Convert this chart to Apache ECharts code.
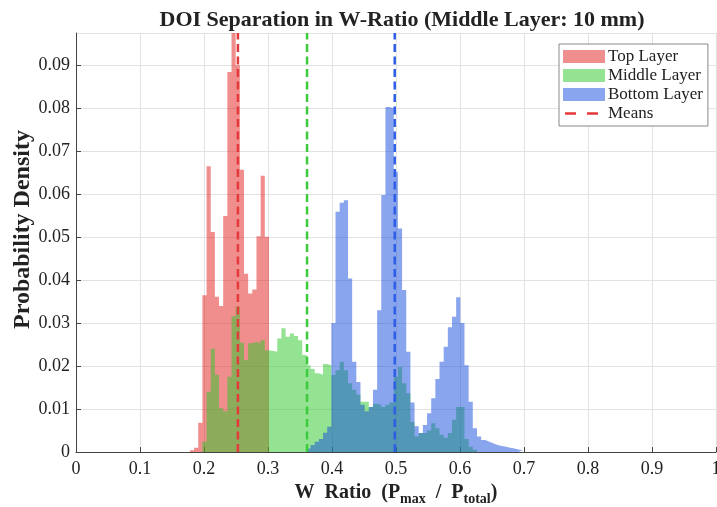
<!DOCTYPE html>
<html>
<head>
<meta charset="utf-8">
<script src="https://cdn.jsdelivr.net/npm/echarts@6/dist/echarts.min.js"></script>
<style>html,body{margin:0;padding:0;background:#fff}#c{width:717px;height:507px}</style>
</head>
<body>
<div id="c"></div>
<script>
// ---- data ----
const BIN_START = 0.178;   // left edge of bin 0
const BIN_WIDTH = 0.0065;
const topLayer = [0.0004, 0.001, 0.0068, 0.0365, 0.0665, 0.0512, 0.0361, 0.034, 0.0549, 0.0884,
  0.099, 0.090, 0.0657, 0.0415, 0.0369, 0.0378, 0.0502, 0.0643, 0.0501];
const middleLayer = [0, 0, 0, 0.0024, 0.014, 0.024, 0.018, 0.0102, 0.0095, 0.0175,
  0.0316, 0.0338, 0.0254, 0.0214, 0.0253, 0.0256, 0.0253, 0.026, 0.0237, 0.0235,
  0.0233, 0.0264, 0.0288, 0.0268, 0.0276, 0.027, 0.026, 0.0226, 0.0202, 0.0193,
  0.0183, 0.018, 0.0205, 0.0202, 0.0179, 0.019, 0.021, 0.019, 0.016, 0.0145,
  0.0133, 0.0117, 0.0117, 0.0105, 0.0112, 0.011, 0.0105, 0.011, 0.0115, 0.0175,
  0.0198, 0.016, 0.0137, 0.007, 0.0036, 0.0044, 0.0044, 0.005, 0.0067, 0.0055,
  0.004, 0.0033, 0.0044, 0.0075, 0.0105, 0.0105, 0.003, 0.0012, 0.0005];
const bottomLayer = [0, 0, 0, 0, 0, 0, 0, 0, 0, 0,
  0, 0, 0, 0, 0, 0, 0, 0, 0, 0,
  0, 0, 0, 0, 0, 0, 0, 0, 0.0008, 0.0016,
  0.0024, 0.003, 0.0045, 0.0059, 0.030, 0.0559, 0.058, 0.0586, 0.0404, 0.021,
  0.0163, 0.011, 0.0095, 0.0105, 0.0145, 0.033, 0.0598, 0.0803, 0.080, 0.0652,
  0.052, 0.0377, 0.0233, 0.0115, 0.006, 0.0044, 0.0063, 0.009, 0.0125, 0.017,
  0.021, 0.0245, 0.029, 0.0315, 0.036, 0.030, 0.0202, 0.0117, 0.0055, 0.0036,
  0.0028, 0.0024, 0.002, 0.0016, 0.0014, 0.0012, 0.001, 0.0008, 0.0006, 0.0004];
const means = {top: 0.253, middle: 0.361, bottom: 0.498};
const xTicks = {min: 0, max: 1, step: 0.1};
const yTicks = {min: 0, max: 0.0975, step: 0.01};

// ---- build ----
const FONT = '"Liberation Serif", "Times New Roman", serif';
function stepData(vals) {
  let first = vals.findIndex(v => v > 0);
  let last = vals.length - 1;
  while (last > 0 && !(vals[last] > 0)) last--;
  const pts = [];
  for (let k = first; k <= last; k++) pts.push([BIN_START + k * BIN_WIDTH, vals[k]]);
  pts.push([BIN_START + (last + 1) * BIN_WIDTH, 0]);
  return pts;
}
const fills = {
  top: 'rgba(226,30,30,0.5)',
  middle: 'rgba(40,200,40,0.5)',
  bottom: 'rgba(20,75,220,0.5)'
};
const swatch = {top: 'rgb(240,142,142)', middle: 'rgb(147,227,147)', bottom: 'rgb(137,165,237)'};
const meanColors = {top: '#E5393B', middle: '#3DCB3D', bottom: '#2E5EE8'};

function histSeries(name, vals, key) {
  return {
    name, type: 'line', step: 'end', symbol: 'none', silent: true,
    data: stepData(vals),
    lineStyle: {width: 0, opacity: 0},
    itemStyle: {color: swatch[key]},
    areaStyle: {color: fills[key], opacity: 1},
    z: 2
  };
}
function meanSeries(name, val, key) {
  return {
    name, type: 'line', symbol: 'none', showSymbol: false, silent: true,
    data: [[val, 0], [val, yTicks.max]],
    lineStyle: {color: meanColors[key], width: 2.5, type: [8, 4.5]},
    itemStyle: {color: meanColors[key]},
    z: 5
  };
}

const chart = echarts.init(document.getElementById('c'), null, {renderer: 'canvas'});
chart.setOption({
  animation: false,
  backgroundColor: '#fff',
  title: {
    text: 'DOI Separation in W-Ratio (Middle Layer: 10 mm)',
    left: 397, top: 4, textAlign: 'center',
    textStyle: {fontFamily: FONT, fontSize: 22, fontWeight: 'bold', color: '#222'}
  },
  grid: {left: 76, right: 1, top: 33, bottom: 55, containLabel: false, outerBoundsMode: 'none'},
  legend: {
    orient: 'vertical', left: 559, top: 44,
    padding: [4, 5, 4, 4], itemGap: 2, itemWidth: 42, itemHeight: 13,
    borderColor: '#888', borderWidth: 1, backgroundColor: '#fff', borderRadius: 0,
    textStyle: {fontFamily: FONT, fontSize: 17, color: '#222', padding: [0, 0, 0, -2]},
    data: [
      {name: 'Top Layer', icon: 'rect', itemStyle: {color: swatch.top}},
      {name: 'Middle Layer', icon: 'rect', itemStyle: {color: swatch.middle}},
      {name: 'Bottom Layer', icon: 'rect', itemStyle: {color: swatch.bottom}},
      {name: 'Means', icon: 'path://M0,0M42,13M2,5.25h11v2.5h-11zM24,5.25h11v2.5h-11z',
       itemStyle: {color: meanColors.top}}
    ]
  },
  xAxis: {
    type: 'value', min: xTicks.min, max: xTicks.max, interval: xTicks.step,
    name: '{b|W  Ratio  (P}{s|max}{b|  /  P}{s|total}{b|)}',
    nameLocation: 'middle', nameGap: 29, nameMoveOverlap: false,
    nameTextStyle: {
      rich: {
        b: {fontFamily: FONT, fontSize: 20, fontWeight: 'bold', color: '#222', lineHeight: 22, verticalAlign: 'bottom'},
        s: {fontFamily: FONT, fontSize: 14, fontWeight: 'bold', color: '#222', lineHeight: 22, verticalAlign: 'bottom', padding: [0, 0, -3, 0]}
      }
    },
    axisLine: {show: true, lineStyle: {color: '#444', width: 1}},
    axisTick: {show: true, inside: true, length: 5, lineStyle: {color: '#444'}},
    axisLabel: {fontFamily: FONT, fontSize: 18, color: '#222', margin: 8},
    splitLine: {show: true, lineStyle: {color: '#e2e2e2', width: 1}}
  },
  yAxis: {
    type: 'value', min: yTicks.min, max: yTicks.max, interval: yTicks.step,
    name: 'Probability Density', nameLocation: 'middle', nameGap: 41, nameMoveOverlap: false,
    nameTextStyle: {fontFamily: FONT, fontSize: 24, fontWeight: 'bold', color: '#222', padding: [0, 0, 0, 26]},
    axisLine: {show: true, lineStyle: {color: '#444', width: 1}},
    axisTick: {show: true, inside: true, length: 5, lineStyle: {color: '#444'}},
    axisLabel: {fontFamily: FONT, fontSize: 18, color: '#222', margin: 6, showMaxLabel: false},
    splitLine: {show: true, lineStyle: {color: '#e2e2e2', width: 1}}
  },
  series: [
    histSeries('Top Layer', topLayer, 'top'),
    histSeries('Middle Layer', middleLayer, 'middle'),
    histSeries('Bottom Layer', bottomLayer, 'bottom'),
    meanSeries('Means', means.top, 'top'),
    meanSeries('Mean middle', means.middle, 'middle'),
    meanSeries('Mean bottom', means.bottom, 'bottom')
  ]
});
</script>
</body>
</html>
